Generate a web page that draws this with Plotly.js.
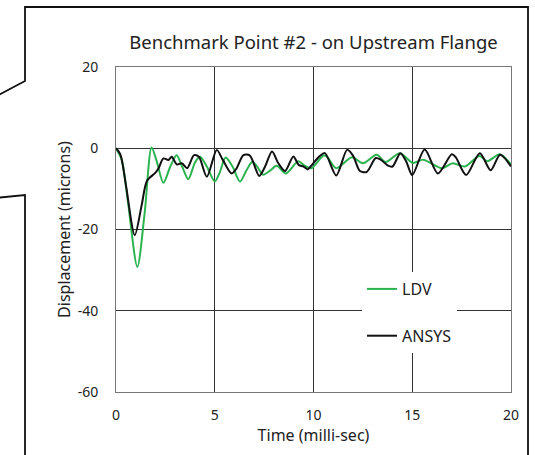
<!DOCTYPE html>
<html>
<head>
<meta charset="utf-8">
<script src="https://cdn.plot.ly/plotly-3.0.1.min.js"></script>
<style>html,body{margin:0;padding:0;background:#fff;}#chart{width:535px;height:455px;}</style>
</head>
<body>
<div id="chart"></div>
<script>
// ANSYS (black) series
var ansysTime = [0,0.22,0.5,0.95,1.3,1.57,2.0,2.15,2.4,2.65,2.82,3.08,3.33,3.6,3.95,4.2,4.6,5.1,5.4,5.85,6.1,6.45,6.78,7.25,7.55,7.9,8.22,8.56,8.98,9.25,9.5,9.7,9.85,10.3,10.58,11.15,11.7,12.0,12.35,12.7,13.15,13.4,13.75,14.0,14.4,14.7,15.0,15.63,16.3,17.0,17.2,17.73,18.42,18.97,19.45,20];
var ansysDisp = [0,-1.5,-9,-21.4,-14,-8,-6,-5,-2.5,-2.9,-2.1,-4,-3.7,-4.9,-1.7,-2.1,-7,-0.4,-2.8,-6.2,-5,-1.7,-1.8,-6.8,-4.5,-0.8,-3.7,-5.6,-2,-4.1,-4.5,-5.2,-4.5,-2,-1.2,-6.7,-0.4,-1.8,-5.6,-5.8,-2.4,-2.8,-4.2,-4.5,-1.2,-3.3,-6.6,-0.3,-6.2,-1.5,-2.2,-6.6,-1.2,-5.4,-1.6,-4.5];
// LDV (green) series
var ldvTime = [0,0.3,0.6,1.08,1.45,1.8,2.05,2.4,2.75,3.07,3.35,3.66,4.0,4.25,4.6,5.0,5.25,5.55,5.9,6.28,6.6,6.9,7.15,7.45,7.8,8.13,8.6,9.23,9.55,9.9,10.5,10.67,11.15,11.95,12.5,13.2,13.65,14.37,15.03,15.55,16.5,17.05,17.67,18.4,18.8,19.43,20];
var ldvDisp = [0,-3,-13,-29.2,-16,0.2,-3,-8.5,-4.5,-1.7,-4.5,-7.6,-3.5,-2.1,-4.5,-8.2,-6,-2.3,-4.5,-8.2,-5.5,-3.3,-4.5,-6.5,-5.5,-4.3,-6.2,-3.2,-4.3,-4.9,-1.8,-2,-4.9,-2.2,-3.7,-1.6,-3.4,-1.2,-3.6,-2.8,-4.9,-3.7,-4.5,-1.9,-3.2,-1.5,-4];
var xTicks = [0,5,10,15,20];
var yTicks = [-60,-40,-20,0,20];
var seriesNames = ['LDV','ANSYS'];

// geometry helpers (pixel -> paper)
var L = 116, R = 511, T = 67, B = 392;
function px(x){ return (x - L) / (R - L); }
function py(y){ return (B - y) / (B - T); }

var traces = [
  {x: ldvTime, y: ldvDisp, name: seriesNames[0], mode: 'lines', legendgroup: 'a',
   line: {color: '#2bb34f', width: 2, shape: 'spline', smoothing: 0.8}},
  {x: ansysTime, y: ansysDisp, name: seriesNames[1], mode: 'lines', legendgroup: 'b',
   line: {color: '#111111', width: 2, shape: 'spline', smoothing: 0.8}}
];

var calloutPath = 'M ' + px(25) + ' ' + py(470) + ' L ' + px(25) + ' ' + py(195) + ' L ' + px(-5) + ' ' + py(198) +
  ' M ' + px(-5) + ' ' + py(97) + ' L ' + px(25) + ' ' + py(81) + ' L ' + px(25) + ' ' + py(7) +
  ' L ' + px(528) + ' ' + py(7) + ' L ' + px(528) + ' ' + py(470);

var layout = {
  width: 535, height: 455,
  margin: {l: L, r: 535 - R, t: T, b: 455 - B, pad: 0},
  paper_bgcolor: '#ffffff', plot_bgcolor: '#ffffff',
  font: {family: 'Noto Sans, Open Sans, sans-serif', size: 14, color: '#222'},
  title: {text: 'Benchmark Point #2 - on Upstream Flange', font: {size: 18.5, color: '#222'},
          xref: 'container', x: 313.5/535, xanchor: 'center', yref: 'container', y: 1 - 43/455, yanchor: 'middle'},
  xaxis: {range: [0, 20], tickvals: xTicks, ticktext: xTicks.map(String), showgrid: true,
          gridcolor: '#333', gridwidth: 1, zeroline: false, showline: true, mirror: true,
          linecolor: '#777', linewidth: 1, ticks: '', ticklabelstandoff: 10,
          tickfont: {size: 14},
          title: {text: 'Time (milli-sec)', font: {size: 16}, standoff: 4}, fixedrange: true},
  yaxis: {range: [-60, 20], tickvals: yTicks, ticktext: yTicks.map(String), showgrid: true,
          gridcolor: '#333', gridwidth: 1, zeroline: false, showline: true, mirror: true,
          linecolor: '#777', linewidth: 1, ticks: '', ticklabelstandoff: 14,
          tickfont: {size: 14},
          title: {text: 'Displacement (microns)', font: {size: 16}, standoff: 3}, fixedrange: true},
  showlegend: true,
  legend: {x: px(362), y: py(272), xanchor: 'left', yanchor: 'top', bgcolor: '#ffffff',
           borderwidth: 0, font: {size: 16, color: '#222'}, traceorder: 'grouped', tracegroupgap: 23,
           itemwidth: 30},
  shapes: [{type: 'path', xref: 'paper', yref: 'paper', path: calloutPath,
            line: {color: '#111', width: 1.8}}]
};

Plotly.newPlot('chart', traces, layout, {displayModeBar: false, staticPlot: true});
</script>
</body>
</html>
